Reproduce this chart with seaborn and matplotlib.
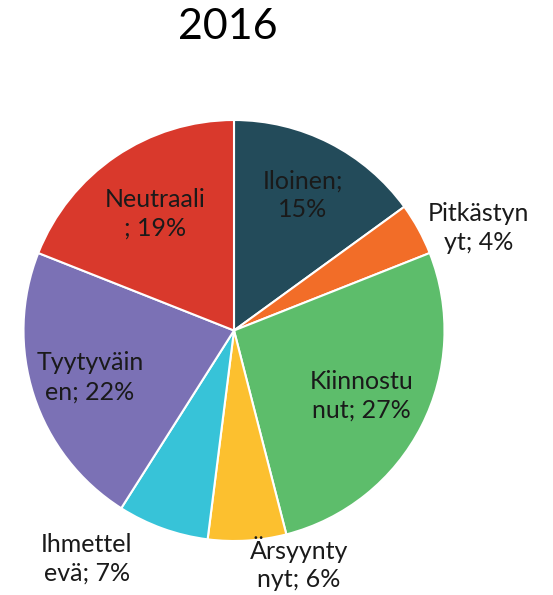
import numpy as np
import matplotlib.pyplot as plt
import seaborn as sns

# data
labels = ["Iloinen;\n15%", "Pitkästyn\nyt; 4%", "Kiinnostu\nnut; 27%", "Ärsyynty\nnyt; 6%",
          "Ihmettel\nevä; 7%", "Tyytyväin\nen; 22%", "Neutraali\n; 19%"]
shares = [15, 4, 27, 6, 7, 22, 19]
colors = ["#234B5A", "#F26D28", "#5DBD6B", "#FCC02F", "#37C3D8", "#7B71B5", "#D9392C"]

# label placement (radius as fraction of pie radius, angle nudge in degrees)
label_r = [0.72, 1.26, 0.68, 1.15, 1.29, 0.72, 0.67]
label_nudge = [0, -6, 0, 12, -13, 0, 0]

sns.set_theme(style="white")
plt.rcParams["font.family"] = ["Lato", "DejaVu Sans"]

W, H, dpi = 553, 595, 100
cx, cy, R = 234, 330.5, 210.5

fig = plt.figure(figsize=(W / dpi, H / dpi), dpi=dpi)
ax = fig.add_axes([0, 0, 1, 1])
wedges, _ = ax.pie(shares, colors=sns.color_palette(colors), startangle=90, counterclock=False,
                   radius=1, wedgeprops=dict(edgecolor="white", linewidth=1.5))
ax.set_aspect("auto")
ax.set_xlim(-cx / R, (W - cx) / R)
ax.set_ylim(-(H - cy) / R, cy / R)
ax.axis("off")

for w, lab, r, nd in zip(wedges, labels, label_r, label_nudge):
    ang = np.deg2rad((w.theta1 + w.theta2) / 2 + nd)
    ax.text(r * np.cos(ang), r * np.sin(ang), lab, ha="center", va="center",
            fontsize=18, color="#1a1a1a", linespacing=1.3)

fig.text(228 / W, 1 - 27 / H, "2016", ha="center", va="center", fontsize=31, color="black")

fig.savefig("out.png", dpi=dpi)
